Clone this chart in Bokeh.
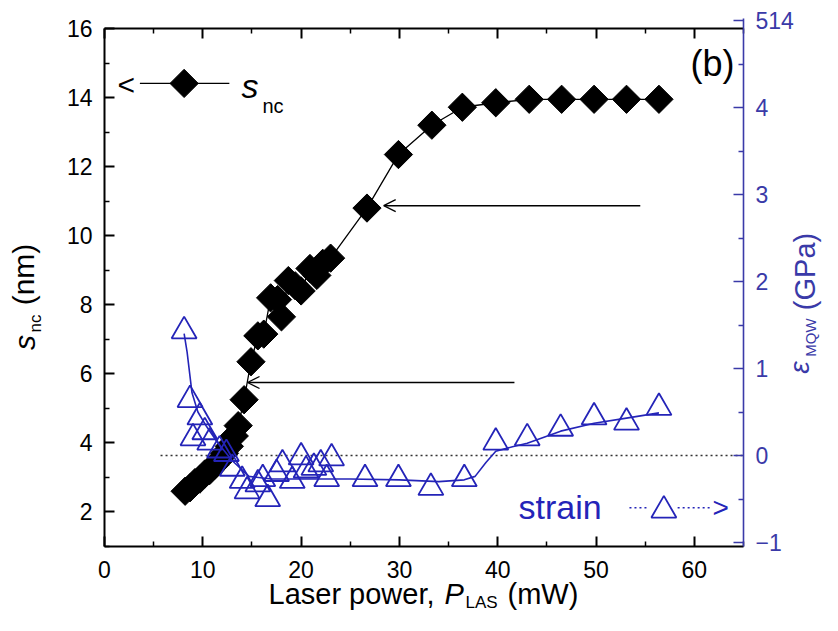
import numpy as np
from bokeh.plotting import figure
from bokeh.models import Range1d, LinearAxis, FixedTicker, Label, Arrow, OpenHead
from bokeh.embed import file_html
from bokeh.resources import INLINE

# ---------------- data ----------------
power_snc = [8.2, 8.7, 9.2, 9.7, 10.2, 10.7, 11.2, 11.7, 12.2, 12.7, 13.2, 13.6,
             14.2, 14.9, 15.6, 16.2, 16.9, 17.6, 18.0, 18.7, 19.4, 20.0, 20.9,
             21.6, 22.2, 23.0, 26.7, 29.9, 33.3, 36.4, 39.8, 43.2, 46.5, 49.8,
             53.1, 56.4]
snc = [2.6, 2.7, 2.85, 2.95, 3.1, 3.2, 3.35, 3.5, 3.7, 3.9, 4.2, 4.5,
       5.25, 6.35, 7.1, 7.15, 8.2, 8.15, 7.65, 8.7, 8.55, 8.4, 9.05,
       8.85, 9.2, 9.35, 10.8, 12.35, 13.2, 13.72, 13.85, 13.95, 13.95, 13.95,
       13.95, 13.95]

power_strain = [8.1, 8.7, 9.0, 9.7, 10.2, 10.7, 11.7, 12.4, 13.0, 14.0, 14.5,
                15.6, 16.1, 16.6, 17.5, 18.1, 19.1, 20.0, 20.5, 21.3, 22.0,
                22.6, 23.1, 26.5, 29.9, 33.2, 36.6, 39.8, 43.0, 46.4, 49.8,
                53.1, 56.4]
strain = [1.43, 0.64, 0.20, 0.44, 0.27, 0.15, 0.06, 0.02, -0.15, -0.29, -0.41,
          -0.33, -0.27, -0.50, -0.21, -0.10, -0.29, -0.02, -0.17, -0.14, -0.10,
          -0.27, -0.03, -0.27, -0.27, -0.37, -0.27, 0.15, 0.20, 0.31, 0.44,
          0.38, 0.55]

fit_power = [8.1, 8.4, 8.9, 9.5, 10.4, 11.5, 13.0, 14.7, 17.0, 20.0, 25.0, 30.0,
             34.0, 36.6, 37.7, 38.8, 39.8, 41.5, 43.0, 46.4, 49.8, 53.1, 56.4]
fit_strain = [1.40, 1.19, 0.72, 0.50, 0.33, 0.15, -0.06, -0.24, -0.27, -0.27,
              -0.27, -0.28, -0.30, -0.28, -0.24, -0.08, 0.05, 0.10, 0.14, 0.28,
              0.37, 0.43, 0.49]

x_major_ticks = [0, 10, 20, 30, 40, 50, 60]
x_minor_ticks = [5, 15, 25, 35, 45, 55, 65]
y_major_ticks = [2, 4, 6, 8, 10, 12, 14, 16]
y_minor_ticks = [1, 3, 5, 7, 9, 11, 13, 15]
r_major_ticks = [-1, 0, 1, 2, 3, 4, 5]
r_minor_ticks = [-0.5, 0.5, 1.5, 2.5, 3.5, 4.5]
r_label_overrides = {5: "514"}

# axis extents (data units)
x_axis_bounds = (0, 65)
y_axis_bounds = (1, 16)
r_axis_bounds = (-1.046, 5.02)

# arrows (start x, end x, y) in data units
arrow_x_start = [54.5, 41.7]
arrow_x_end = [28.4, 14.55]
arrow_y = [10.87, 5.75]

zero_line_x = [5.7, 65.0]
zero_line_y = [0.0, 0.0]

# legend helper geometry (data units)
leg_line_x = [3.6, 12.7]
leg_line_y = [14.41, 14.41]
leg_diamond_x = [8.1]
leg_diamond_y = [14.41]
leg2_dot1_x = [53.4, 55.4]
leg2_dot2_x = [58.3, 61.6]
leg2_y = [-0.60, -0.60]
leg2_tri_x = [56.9]
leg2_tri_y = [-0.63]

BLUE = "#2424b8"
AXBLUE = "#3a3aa8"
FONT = "'Liberation Sans', Arial, Helvetica, sans-serif"

W, H = 822, 615
# pixel anchors of the axes box (canvas coords)
FL, FR, FT, FB = 104, 743, 28, 546
kx = (FR - FL) / (x_axis_bounds[1] - x_axis_bounds[0])
ky = (FB - FT) / (y_axis_bounds[1] - y_axis_bounds[0])
x_start = x_axis_bounds[0] - FL / kx
x_end = x_axis_bounds[1] + (W - FR) / kx
y_start = y_axis_bounds[0] - (H - FB) / ky
y_end = y_axis_bounds[1] + FT / ky
# right axis: 0 at 455 px, 87 px per GPa
R0, KR = 455, 87.0
r_start = -(H - R0) / KR
r_end = R0 / KR

p = figure(width=W, height=H, x_range=Range1d(x_start, x_end),
           y_range=Range1d(y_start, y_end),
           output_backend="svg", toolbar_location=None,
           x_axis_location=None, y_axis_location=None,
           min_border_left=0, min_border_right=0, min_border_top=0, min_border_bottom=0)
p.extra_y_ranges = {"strain": Range1d(r_start, r_end)}
p.xgrid.visible = False
p.ygrid.visible = False
p.outline_line_color = None
p.background_fill_color = "white"
p.border_fill_color = "white"


def style_axis(ax, color="black"):
    ax.axis_line_width = 2
    ax.axis_line_color = color
    ax.major_tick_in = 10
    ax.major_tick_out = 0
    ax.minor_tick_in = 5
    ax.minor_tick_out = 0
    ax.major_tick_line_width = 2
    ax.minor_tick_line_width = 1.5
    ax.major_tick_line_color = color
    ax.minor_tick_line_color = color
    ax.major_label_text_font = FONT
    ax.major_label_text_font_size = "23px"
    ax.major_label_text_color = color
    ax.major_label_standoff = 12
    ax.axis_label = None


xb = LinearAxis(ticker=FixedTicker(ticks=x_major_ticks, minor_ticks=x_minor_ticks),
                fixed_location=y_axis_bounds[0], bounds=x_axis_bounds)
style_axis(xb)
xb.major_label_standoff = 14
p.add_layout(xb, "below")

xt = LinearAxis(ticker=FixedTicker(ticks=x_major_ticks, minor_ticks=x_minor_ticks),
                fixed_location=y_axis_bounds[1], bounds=x_axis_bounds)
style_axis(xt)
xt.major_label_text_alpha = 0
p.add_layout(xt, "above")

yl = LinearAxis(ticker=FixedTicker(ticks=y_major_ticks, minor_ticks=y_minor_ticks),
                fixed_location=x_axis_bounds[0], bounds=y_axis_bounds)
style_axis(yl)
p.add_layout(yl, "left")

yr = LinearAxis(y_range_name="strain",
                ticker=FixedTicker(ticks=r_major_ticks, minor_ticks=r_minor_ticks),
                fixed_location=x_axis_bounds[1], bounds=r_axis_bounds)
style_axis(yr, AXBLUE)
yr.axis_line_width = 1.6
yr.major_tick_line_width = 1.6
yr.major_label_overrides = r_label_overrides
p.add_layout(yr, "right")

# zero strain dotted line
p.line(zero_line_x, zero_line_y, y_range_name="strain", line_color="#333333",
       line_width=1.6, line_dash="2 3")

# s_nc series
p.line(power_snc, snc, line_color="black", line_width=1.3)
p.scatter(power_snc, snc, marker="square", size=20, angle=np.pi / 4,
          fill_color="black", line_color="black")

# strain series
p.line(fit_power, fit_strain, y_range_name="strain", line_color=BLUE, line_width=1.6)
p.scatter(power_strain, strain, y_range_name="strain", marker="triangle", size=25,
          fill_color=None, line_color=BLUE, line_width=1.8)

# arrows
for xs, xe, ya in zip(arrow_x_start, arrow_x_end, arrow_y):
    p.add_layout(Arrow(end=OpenHead(size=12, line_width=1.3, line_color="black"),
                       x_start=xs, y_start=ya, x_end=xe, y_end=ya,
                       line_width=1.5, line_color="black"))

# legend glyphs
p.line(leg_line_x, leg_line_y, line_color="black", line_width=1.3)
p.scatter(leg_diamond_x, leg_diamond_y, marker="square", size=20, angle=np.pi / 4,
          fill_color="black", line_color="black")
p.line(leg2_dot1_x, leg2_y, y_range_name="strain", line_color=BLUE, line_width=1.6,
       line_dash="2 3")
p.line(leg2_dot2_x, leg2_y, y_range_name="strain", line_color=BLUE, line_width=1.6,
       line_dash="2 3")
p.scatter(leg2_tri_x, leg2_tri_y, y_range_name="strain", marker="triangle", size=25,
          fill_color=None, line_color=BLUE, line_width=1.8)


def txt(px, py, text, size, color="black", style="normal", angle=0.0,
        align="left", baseline="middle"):
    p.add_layout(Label(x=px, y=H - py, x_units="screen", y_units="screen",
                       text=text, text_font=FONT, text_font_size=f"{size}px",
                       text_color=color, text_font_style=style, angle=angle,
                       text_align=align, text_baseline=baseline))


# legend texts (left edge, vertical middle)
txt(117, 84, "<", 30)
txt(241, 85, "s", 34, style="italic")
txt(262, 105, "nc", 20)
txt(518, 506, "strain", 34, color=BLUE)
txt(712, 507, ">", 28, color=BLUE)
txt(690, 63, "(b)", 36)

# x axis label
txt(268, 593, "Laser power, ", 29)
txt(444, 593, "P", 29, style="italic")
txt(465, 602, "LAS", 17)
txt(507, 593, "(mW)", 29)

# left axis label (rotated, centred pieces)
ROT = np.pi / 2
txt(24, 342, "s", 30, style="italic", angle=ROT, align="center")
txt(35, 323, "nc", 17, angle=ROT, align="center")
txt(23, 274, "(nm)", 30, angle=ROT, align="center")

# right axis label (rotated, centred pieces)
txt(799, 367, "\u03b5", 28, color=AXBLUE, style="italic", angle=ROT, align="center")
txt(810, 337, "MQW", 15, color=AXBLUE, angle=ROT, align="center")
txt(804, 271, "(GPa)", 29, color=AXBLUE, angle=ROT, align="center")

open("out.html", "w").write(file_html(p, INLINE))
